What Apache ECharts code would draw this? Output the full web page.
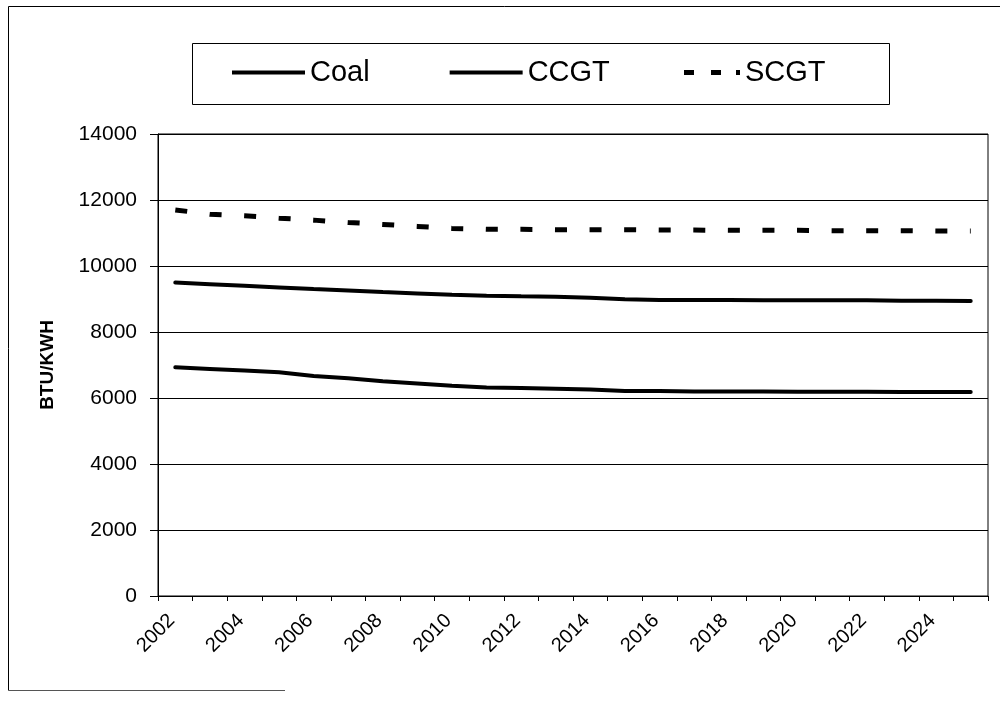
<!DOCTYPE html>
<html>
<head>
<meta charset="utf-8">
<script src="https://cdn.jsdelivr.net/npm/echarts@6/dist/echarts.min.js"></script>
<style>
html,body{margin:0;padding:0;background:#fff;}
#c{width:1000px;height:701px;}
</style>
</head>
<body>
<div id="c"></div>
<script>
const years = ['2002','2003','2004','2005','2006','2007','2008','2009','2010','2011','2012','2013','2014','2015','2016','2017','2018','2019','2020','2021','2022','2023','2024','2025'];
const coal = [6930,6880,6830,6780,6670,6600,6510,6440,6370,6320,6300,6280,6260,6210,6210,6200,6200,6200,6190,6190,6190,6180,6180,6180];
const ccgt = [9500,9450,9400,9350,9300,9260,9210,9170,9130,9100,9080,9070,9040,8990,8970,8970,8970,8960,8960,8960,8960,8950,8950,8940];
const scgt = [11700,11570,11520,11450,11390,11320,11260,11200,11140,11110,11110,11100,11100,11100,11090,11090,11080,11080,11080,11070,11070,11070,11060,11060];
const seriesNames = ['Coal','CCGT','SCGT'];

const chart = echarts.init(document.getElementById('c'));
const font = 'Liberation Sans, Arial, sans-serif';
const legendText = {fontSize: 29, color: '#000', fontFamily: font};
chart.setOption({
  backgroundColor: '#fff',
  animation: false,
  textStyle: {fontFamily: font, color: '#000'},
  grid: {left: 158, right: 12, top: 134, bottom: 105, show: true, borderColor: '#000', borderWidth: 1, backgroundColor: 'transparent'},
  legend: [
    {
      left: 232, top: 58, padding: 0,
      itemWidth: 73, itemHeight: 4, itemGap: 80,
      textStyle: legendText,
      data: [
        {name: seriesNames[0], icon: 'rect'},
        {name: seriesNames[1], icon: 'rect'}
      ]
    },
    {
      left: 684, top: 58, padding: 0,
      itemWidth: 56, itemHeight: 5,
      textStyle: legendText,
      data: [
        {name: seriesNames[2], icon: 'path://M0,0h10v5h-10z M27,0h10v5h-10z M52,0h4v5h-4z'}
      ]
    }
  ],
  xAxis: {
    type: 'category', data: years, boundaryGap: true, position: 'bottom',
    axisLine: {lineStyle: {color: '#000', width: 1}},
    axisTick: {show: true, length: 5, interval: 0, lineStyle: {color: '#000'}},
    axisLabel: {
      show: true, interval: 1, rotate: 45, margin: 18, fontSize: 20, color: '#000', fontFamily: font,
      padding: [0, 5, 10, 0]
    },
    splitLine: {show: false}
  },
  yAxis: {
    type: 'value', min: 0, max: 14000, interval: 2000,
    name: 'BTU/KWH', nameLocation: 'middle', nameGap: 101, nameRotate: 90,
    nameTextStyle: {fontSize: 19, fontWeight: 'bold', color: '#000', fontFamily: font},
    axisLine: {show: true, lineStyle: {color: '#000', width: 1}},
    axisTick: {show: true, length: 8, lineStyle: {color: '#000'}},
    axisLabel: {margin: 21, fontSize: 21, color: '#000', fontFamily: font, formatter: function (v) { return String(v); }},
    splitLine: {show: true, lineStyle: {color: '#000', width: 1}}
  },
  series: [
    {name: seriesNames[0], type: 'line', data: coal, symbol: 'none', showSymbol: false,
     lineStyle: {color: '#000', width: 4, cap: 'round'}, itemStyle: {color: '#000'}},
    {name: seriesNames[1], type: 'line', data: ccgt, symbol: 'none', showSymbol: false,
     lineStyle: {color: '#000', width: 4, cap: 'round'}, itemStyle: {color: '#000'}},
    {name: seriesNames[2], type: 'line', data: scgt, symbol: 'none', showSymbol: false,
     lineStyle: {color: '#000', width: 5, type: [12, 22.58], dashOffset: 0}, itemStyle: {color: '#000'}}
  ],
  graphic: [
    {type: 'rect', shape: {x: 192.5, y: 43.5, width: 697, height: 61}, style: {fill: 'none', stroke: '#000', lineWidth: 1}},
    {type: 'line', shape: {x1: 8.5, y1: 6.5, x2: 1000, y2: 6.5}, style: {stroke: '#000', lineWidth: 1}},
    {type: 'line', shape: {x1: 8.5, y1: 6.5, x2: 8.5, y2: 690.5}, style: {stroke: '#000', lineWidth: 1}},
    {type: 'line', shape: {x1: 8.5, y1: 690.5, x2: 285, y2: 690.5}, style: {stroke: '#555', lineWidth: 1}}
  ]
});
</script>
</body>
</html>
